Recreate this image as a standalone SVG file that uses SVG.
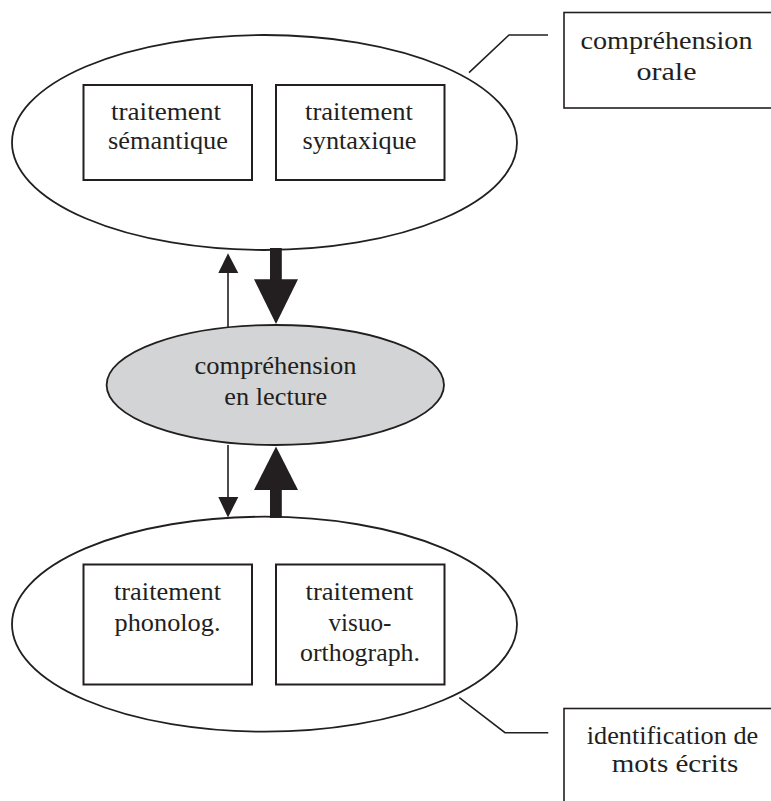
<svg xmlns="http://www.w3.org/2000/svg" width="771" height="801" viewBox="0 0 771 801">
<style>
  .ell{fill:#fff;stroke:#231f20;stroke-width:1.8}
  .mid{fill:#d3d4d5;stroke:#231f20;stroke-width:1.8}
  .box{fill:#fff;stroke:#231f20;stroke-width:2}
  .lbl{fill:#fff;stroke:#231f20;stroke-width:1.6}
  .lead{fill:none;stroke:#231f20;stroke-width:1.6}
  .thin{stroke:#231f20;stroke-width:1.6;fill:none}
  .head{fill:#231f20;stroke:none}
  .t{font-family:'Liberation Serif','Times New Roman',serif;font-size:26px;fill:#231f20;text-anchor:middle}
</style>
<g id="oral">
  <ellipse class="ell" cx="264.5" cy="142.5" rx="252.5" ry="107.5"/>
</g>
<g id="semantique" class="t">
  <rect class="box" x="83.5" y="85" width="168.5" height="95"/>
  <text x="166" y="119.5" textLength="110" lengthAdjust="spacingAndGlyphs">traitement</text>
  <text x="168" y="149" textLength="120" lengthAdjust="spacingAndGlyphs">sémantique</text>
</g>
<g id="syntaxique" class="t">
  <rect class="box" x="276" y="85" width="168.5" height="95"/>
  <text x="359" y="119.5" textLength="108" lengthAdjust="spacingAndGlyphs">traitement</text>
  <text x="359.5" y="149" textLength="114" lengthAdjust="spacingAndGlyphs">syntaxique</text>
</g>
<g id="label-oral" class="t">
  <rect class="lbl" x="564" y="12.5" width="220" height="95.5"/>
  <text x="666.5" y="49" textLength="172" lengthAdjust="spacingAndGlyphs">compréhension</text>
  <text x="666.5" y="80" textLength="60" lengthAdjust="spacingAndGlyphs">orale</text>
</g>
<g id="lecture" class="t">
  <ellipse class="mid" cx="275.3" cy="385" rx="168.7" ry="60"/>
  <text x="275.5" y="373.5" textLength="162" lengthAdjust="spacingAndGlyphs">compréhension</text>
  <text x="275.8" y="404.5" textLength="103" lengthAdjust="spacingAndGlyphs">en lecture</text>
</g>
<g id="identification">
  <ellipse class="ell" cx="264.5" cy="624.2" rx="252.5" ry="107.5"/>
</g>
<g id="phonolog" class="t">
  <rect class="box" x="83.5" y="564.5" width="168.5" height="120"/>
  <text x="167.5" y="599.5" textLength="107" lengthAdjust="spacingAndGlyphs">traitement</text>
  <text x="167.5" y="631" textLength="106" lengthAdjust="spacingAndGlyphs">phonolog.</text>
</g>
<g id="visuo" class="t">
  <rect class="box" x="276" y="564.5" width="168.5" height="120"/>
  <text x="359.5" y="599.5" textLength="108" lengthAdjust="spacingAndGlyphs">traitement</text>
  <text x="360" y="631" textLength="63" lengthAdjust="spacingAndGlyphs">visuo-</text>
  <text x="360" y="661" textLength="120" lengthAdjust="spacingAndGlyphs">orthograph.</text>
</g>
<g id="label-ident" class="t">
  <rect class="lbl" x="564" y="708.5" width="220" height="110"/>
  <text x="672.5" y="743.5" textLength="171.5" lengthAdjust="spacingAndGlyphs">identification de</text>
  <text x="675" y="771.5" textLength="126.5" lengthAdjust="spacingAndGlyphs">mots écrits</text>
</g>
<g id="connectors">
  <polyline class="lead" points="469,72.7 509,35 548,35"/>
  <polyline class="lead" points="459.3,697.7 505,732.7 548.3,732.7"/>
  <line class="thin" x1="228" y1="327" x2="228" y2="272"/>
  <polygon class="head" points="228,253.3 218.3,273 238.3,273"/>
  <rect class="head" x="270" y="248" width="11.8" height="32"/>
  <polygon class="head" points="254,279.3 298,279.3 276,324"/>
  <line class="thin" x1="228" y1="445" x2="228" y2="498"/>
  <polygon class="head" points="228,517.5 218.3,497 238.3,497"/>
  <rect class="head" x="270" y="489" width="11.8" height="29"/>
  <polygon class="head" points="254,490 298,490 276,446.5"/>
</g>
</svg>
